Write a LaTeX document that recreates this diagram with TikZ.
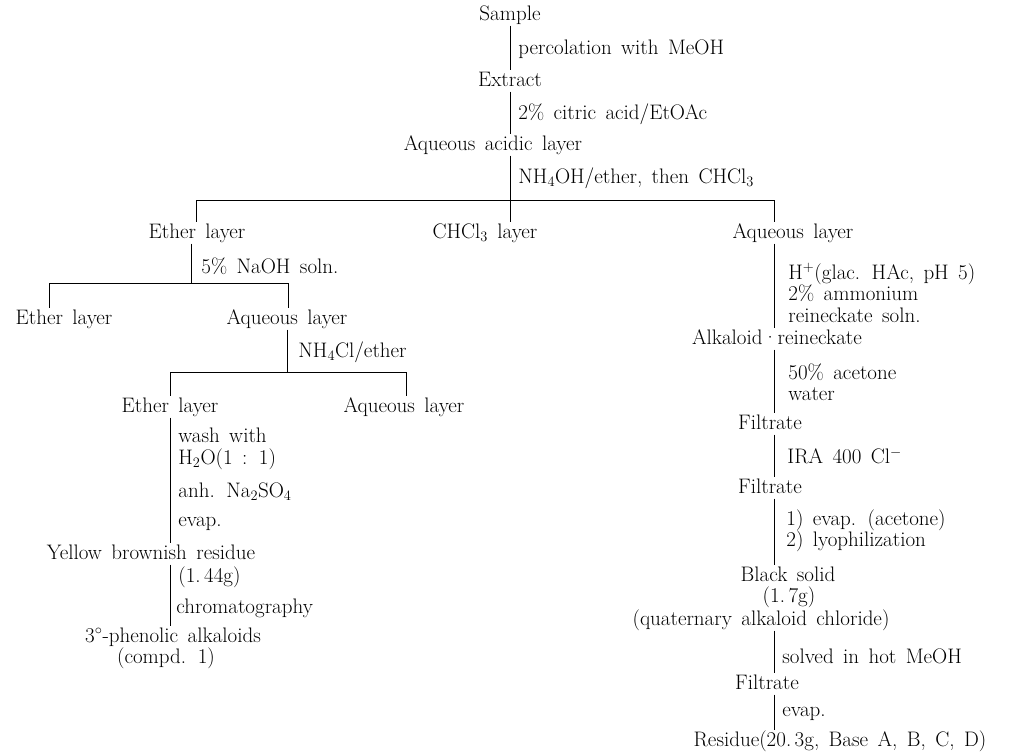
\documentclass[tikz,border=0pt]{standalone}
\usepackage{tikz}
\usetikzlibrary{positioning,calc}
\newcommand{\flowfont}{\fontsize{21}{21.5}\selectfont\spaceskip=0.45em plus 0.1em\relax}

\begin{document}
\begin{tikzpicture}[x=1pt, y=-1pt, line width=0.8pt,
  every node/.style={font=\flowfont},
  item/.style={anchor=mid, inner sep=1pt, text height=15pt, text depth=4pt, yshift=-4pt},
  note/.style={anchor=west, inner sep=0pt, align=left, yshift=-2pt}]
\useasboundingbox (0,0) rectangle (1009,752);

% 主干
\node[item] (sample) at (510,14) {Sample};
\node[item] (extract) at (510,80) {Extract};
\node[item] (acidlayer) at (493,144) {Aqueous acidic layer};
\node[note] (percol) at (518,47) {percolation with MeOH};
\node[note] (citric) at (518,112) {2\% citric acid/EtOAc};
\node[note] (ammonia) at (518,176) {NH$_4$OH/ether, then CHCl$_3$};

% 第一次分液
\coordinate (bar1l) at (196,200);
\coordinate (bar1) at (510,200);
\coordinate (bar1r) at (774,200);
\node[item] (etherlayer) at (197,232) {Ether layer};
\node[item] (chcllayer) at (485,232) {CHCl$_3$ layer};
\node[item] (aqlayer) at (793,232) {Aqueous layer};

% 醚层分支
\coordinate (bar2l) at (49,283);
\coordinate (bar2) at (191,283);
\coordinate (bar2r) at (288,283);
\node[note] (naoh) at (201,264) {5\% NaOH soln.};
\node[item] (ether2) at (64,318) {Ether layer};
\node[item] (aq2) at (287,318) {Aqueous layer};
\node[note] (nhcl) at (298,350) {NH$_4$Cl/ether};
\coordinate (bar3l) at (170,372);
\coordinate (bar3) at (287,372);
\coordinate (bar3r) at (406,372);
\node[item] (ether3) at (170,406) {Ether layer};
\node[item] (aq3) at (404,406) {Aqueous layer};
\node[note] (wash) at (178,447) {wash with\\H$_2$O(1 : 1)};
\node[note] (drying) at (178,490) {anh. Na$_2$SO$_4$};
\node[note] (evap1) at (178,522) {evap.};
\node[item] (yellow) at (151,553) {Yellow brownish residue};
\node[note] (yield1) at (178,575) {(1.\,44g)};
\node[note] (chroma) at (176,606) {chromatography};
\node[item] (phenolic) at (173,636) {3$^\circ$-phenolic alkaloids};
\node[item] (compd) at (166,657) {(compd. 1)};

% 水层分支
\node[note] (reinecke) at (788,291) {H$^+$(glac. HAc, pH 5)\\2\% ammonium\\reineckate soln.};
\node[item] (alkaloid) at (777,338) {Alkaloid{\textperiodcentered}reineckate};
\node[note] (acetone) at (788,380) {50\% acetone\\water};
\node[item] (filtrate1) at (770,423) {Filtrate};
\node[note] (ira) at (787,454) {IRA 400 Cl$^-$};
\node[item] (filtrate2) at (770,487) {Filtrate};
\node[note] (lyo) at (786,529) {1) evap. (acetone)\\2) lyophilization};
\node[item] (black) at (788,575) {Black solid};
\node[item] (yield2) at (789,596) {(1.\,7g)};
\node[item] (quat) at (761,619) {(quaternary alkaloid chloride)};
\node[note] (hotmeoh) at (782,654) {solved in hot MeOH};
\node[item] (filtrate3) at (767,683) {Filtrate};
\node[note] (evap2) at (782,712) {evap.};
\node[item] (residue) at (840,740) {Residue(20.\,3g, Base A, B, C, D)};

% 连线
\draw (sample.south) -- (extract.north);
\draw (extract.south) -- (acidlayer.north -| extract);
\draw (acidlayer.south -| extract) -- (bar1);
\draw (bar1l) -- (bar1r);
\draw (bar1l) -- (etherlayer.north -| bar1l);
\draw (bar1) -- (chcllayer.north -| bar1);
\draw (bar1r) -- (aqlayer.north -| bar1r);

\draw (etherlayer.south -| bar2) -- (bar2);
\draw (bar2l) -- (bar2r);
\draw (bar2l) -- (ether2.north -| bar2l);
\draw (bar2r) -- (aq2.north -| bar2r);
\draw (aq2.south -| bar3) -- (bar3);
\draw (bar3l) -- (bar3r);
\draw (bar3l) -- (ether3.north -| bar3l);
\draw (bar3r) -- (aq3.north -| bar3r);
\draw (ether3.south -| bar3l) -- (yellow.north -| bar3l);
\draw (yellow.south -| bar3l) -- (phenolic.north -| bar3l);

\draw (aqlayer.south -| bar1r) -- (alkaloid.north -| bar1r);
\draw (alkaloid.south -| bar1r) -- (filtrate1.north -| bar1r);
\draw (filtrate1.south -| bar1r) -- (filtrate2.north -| bar1r);
\draw (filtrate2.south -| bar1r) -- (black.north -| bar1r);
\draw (quat.south -| bar1r) -- (filtrate3.north -| bar1r);
\draw (filtrate3.south -| bar1r) -- (residue.north -| bar1r);
\end{tikzpicture}
\end{document}
